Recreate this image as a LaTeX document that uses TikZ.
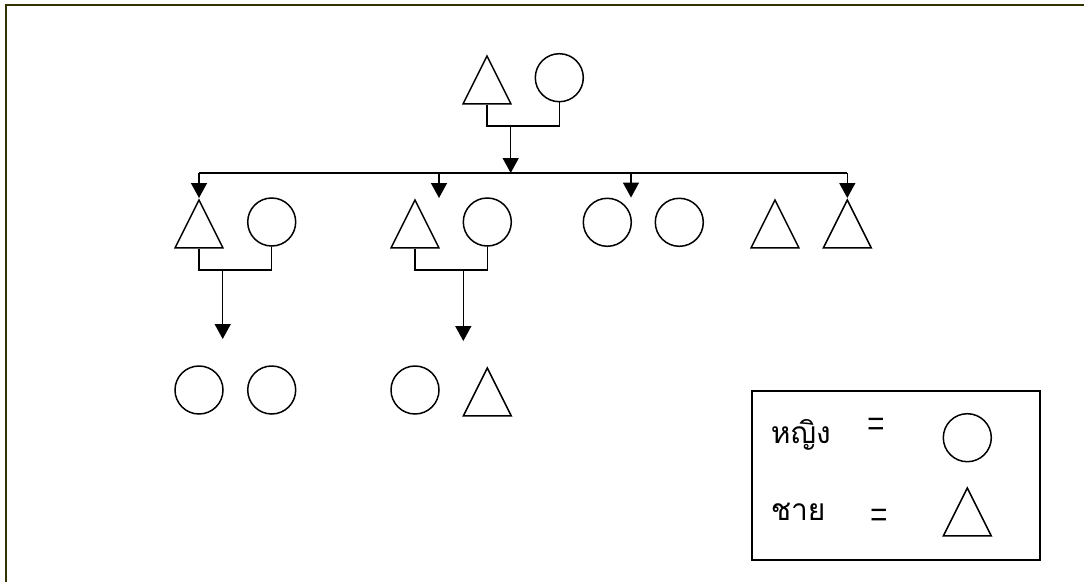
\documentclass[tikz,border=0pt]{standalone}
\usepackage{graphicx}
\usepackage{fontspec}
\setmainfont{Liberation Serif}
\newfontfamily\thaifont[Script=Thai]{Loma}
\usetikzlibrary{shapes.geometric,arrows.meta}
\definecolor{frameolive}{RGB}{51,51,0}
\begin{document}
\begin{tikzpicture}[x=1pt,y=-1pt,line width=1.5pt,%
% common options for the women:
female/.style = {circle, draw, minimum size=48pt, inner sep=0},
% common options for the men:
male/.style = {isosceles triangle, isosceles triangle stretches,
            shape border rotate=90, draw, minimum width=48pt,
            minimum height=48pt, inner sep=0, anchor=apex},
% common options for the key texts:
keytext/.style = {font=\thaifont\fontsize{30}{36}\selectfont, anchor=base west, inner sep=0},
eqsign/.style = {font=\fontsize{31}{36}\selectfont, anchor=base, inner sep=0},
>={Triangle[width=16pt,length=15pt]}]
\useasboundingbox (0,0) rectangle (1084,581);
\draw[frameolive, line width=2pt] (6,5) rectangle (1120,620);
% grandparents
\node[male] (F0) at (487,54) {};
\node[female] (M0) at (559.3,77.7) {};
% children
\node[male] (A1) at (199,198) {};
\node[female] (B1) at (271.7,222) {};
\node[male] (A2) at (415,198) {};
\node[female] (B2) at (487.3,222) {};
\node[female] (C1) at (607.3,222.3) {};
\node[female] (C2) at (679.3,222.3) {};
\node[male] (D1) at (775,198) {};
\node[male] (D2) at (847.3,198) {};
% grandchildren
\node[female] (E1) at (199,390) {};
\node[female] (E2) at (271.7,390) {};
\node[female] (E3) at (415,390) {};
\node[male] (E4) at (487.3,366) {};
% key
\node[draw, minimum width=288pt, minimum height=169pt, anchor=north west, inner sep=0] (key) at (751,390) {};
\node[keytext] (women) at (770,443) {หญิง};
\node[eqsign] (eq1) at (876.5,439.3) {\scalebox{1}[1.5]{=}};
\node[female] (kf) at (967.3,437.7) {};
\node[keytext] (men) at (770,520) {ชาย};
\node[eqsign] (eq2) at (879.5,530.8) {\scalebox{1}[1.5]{=}};
\node[male] (km) at (967.3,486) {};
% joints
\coordinate (J0) at (510.7,126);
\coordinate (BL) at (199,173);
\coordinate (BR) at (847.3,173);
\coordinate (T2) at (439,173);
\coordinate (T3) at (631,173);
\coordinate (J1) at (222.7,270);
\coordinate (K1) at (222.7,339);
\coordinate (J2) at (463.3,270);
\coordinate (K2) at (463.3,341);
\draw (F0.lower side) |- (J0) -| (M0.south);
\draw[->] (J0) -- (J0 |- BL);
\draw (BL) -- (BR);
\draw[->] (BL) -- (A1.apex);
\draw[->] (T2) -- (T2 |- A2.apex);
\draw[->] (T3) -- (T3 |- C1.north);
\draw[->] (BR) -- (D2.apex);
\draw (A1.lower side) |- (J1) -| (B1.south);
\draw[->] (J1) -- (K1);
\draw (A2.lower side) |- (J2) -| (B2.south);
\draw[->] (J2) -- (K2);
\end{tikzpicture}
\end{document}
